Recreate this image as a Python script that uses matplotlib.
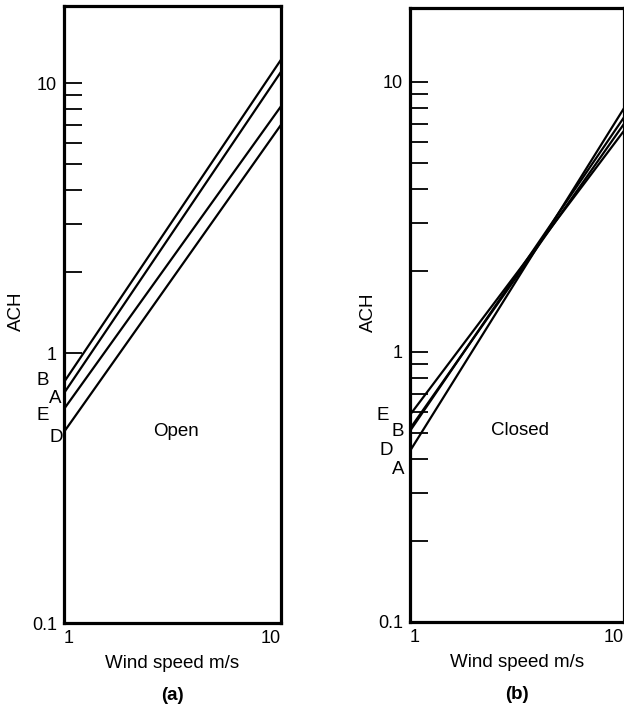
import matplotlib
matplotlib.use('Agg')
import matplotlib.pyplot as plt
from matplotlib.ticker import FixedLocator, NullFormatter

plt.rcParams['font.family'] = ['Liberation Sans', 'DejaVu Sans']

# wind speed range (m/s)
wind = [1, 10]

# (a) windows open: ACH at 1 m/s and at 10 m/s
open_names = ['B', 'A', 'E', 'D']
open_start = [0.78, 0.71, 0.62, 0.51]
open_end = [12.2, 11.0, 8.2, 7.0]

# (b) windows closed
closed_names = ['E', 'B', 'A', 'D']
closed_start = [0.585, 0.52, 0.51, 0.43]
closed_end = [6.6, 7.0, 7.4, 8.0]

y_major = [0.1, 1, 10]
y_major_labels = ['0.1', '1', '10']
x_major = [1, 10]
x_major_labels = ['1', '10']
minor_upper = [2, 3, 4, 5, 6, 7, 8, 9]
minor_lower = [0.2, 0.3, 0.4, 0.5, 0.6, 0.7, 0.8, 0.9]

W, H = 624, 708
fig = plt.figure(figsize=(W / 100, H / 100), dpi=100)


def px_axes(left, top, right, bottom):
    return fig.add_axes([left / W, 1 - bottom / H, (right - left) / W, (bottom - top) / H])


def setup(ax, ytop, minors, title, tag, names, starts, ends, label_pos, ach_x):
    for a, b in zip(starts, ends):
        ax.plot(wind, [a, b], color='black', lw=1.6, solid_capstyle='butt', clip_on=True)
    ax.set_xscale('log')
    ax.set_yscale('log')
    ax.set_xlim(1, 10)
    ax.set_ylim(0.1, ytop)
    for s in ax.spines.values():
        s.set_linewidth(2.3)
    ax.set_yticks(y_major)
    ax.set_yticklabels(y_major_labels)
    ax.yaxis.set_minor_locator(FixedLocator(minors))
    ax.yaxis.set_minor_formatter(NullFormatter())
    ax.tick_params(axis='y', which='both', direction='in', length=13, width=1.3,
                   labelsize=13, pad=5)
    ax.set_xticks(x_major)
    ax.set_xticklabels(x_major_labels)
    ax.xaxis.set_minor_locator(FixedLocator([]))
    ax.tick_params(axis='x', which='both', length=0, labelsize=13, pad=5)
    xl = ax.get_xticklabels()
    xl[0].set_ha('left')
    xl[1].set_ha('right')
    ax.set_xlabel('Wind speed m/s', fontsize=13.5, labelpad=6)
    ax.set_ylabel('ACH', fontsize=13.5)
    ax.yaxis.set_label_coords(ach_x, 0.505)
    ax.text(0.515, 0.51, title, transform=ax.get_yaxis_transform(), fontsize=13.5,
            ha='center', va='center')
    ax.text(0.5, -0.118, tag, transform=ax.transAxes, fontsize=13.5, fontweight='bold',
            ha='center', va='center')
    trans = ax.get_yaxis_transform()
    for n, (xf, yv) in zip(names, label_pos):
        ax.text(xf, yv, n, transform=trans, fontsize=13.5, ha='center', va='center',
                clip_on=False)


ax1 = px_axes(64, 6, 281, 623)
setup(ax1, 0.1 * 10 ** (617 / 270), minor_upper, 'Open', '(a)',
      open_names, open_start, open_end,
      [(-0.10, 0.794), (-0.041, 0.681), (-0.10, 0.589), (-0.037, 0.485)], -0.18)

ax2 = px_axes(410, 8, 624, 622)
setup(ax2, 0.1 * 10 ** (614 / 270), minor_lower + minor_upper, 'Closed', '(b)',
      closed_names, closed_start, closed_end,
      [(-0.126, 0.584), (-0.056, 0.509), (-0.056, 0.368), (-0.11, 0.43)], -0.154)

fig.savefig('out.png', dpi=100)
